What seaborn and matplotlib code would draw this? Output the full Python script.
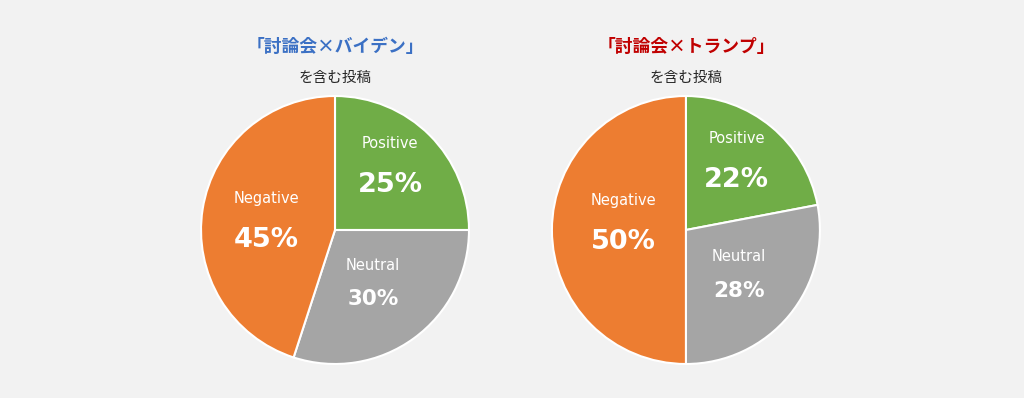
import numpy as np
import matplotlib
matplotlib.use("Agg")
import matplotlib.pyplot as plt
import seaborn as sns

categories = ["Positive", "Neutral", "Negative"]
biden_values = [25, 30, 45]
trump_values = [22, 28, 50]

titles = ["「討論会×バイデン」", "「討論会×トランプ」"]
title_colors = ["#3b70c4", "#c00000"]
subtitle = "を含む投稿"

colors = ["#70ad47", "#a5a5a5", "#ed7d31"]

sns.set_theme(style="white")
plt.rcParams["font.family"] = ["DejaVu Sans"]
jp_font = ["Noto Sans CJK JP", "DejaVu Sans"]

fig = plt.figure(figsize=(10.24, 3.98), dpi=100, facecolor="#f2f2f2")

# label radius (fraction of pie radius) and angle nudge (deg) per category
label_dist = [
    {"Positive": 0.64, "Neutral": 0.48, "Negative": 0.52},
    {"Positive": 0.65, "Neutral": 0.51, "Negative": 0.47},
]
label_nudge = [
    {"Positive": 5, "Neutral": 0, "Negative": 0},
    {"Positive": 4, "Neutral": 0, "Negative": -8},
]
pct_size = {"Positive": 19.5, "Neutral": 15.5, "Negative": 19.5}
gap = {"Positive": 0.155, "Neutral": 0.127, "Negative": 0.155}

positions = [[0.1963, 0.0854, 0.2617, 0.6734], [0.5390, 0.0854, 0.2617, 0.6734]]

for i, values in enumerate([biden_values, trump_values]):
    ax = fig.add_axes(positions[i])
    ax.set_facecolor("#f2f2f2")
    wedges, _ = ax.pie(values, colors=colors, startangle=90, counterclock=False,
                       radius=1.0, wedgeprops=dict(edgecolor="white", linewidth=1.5))
    ax.set_xlim(-1.0, 1.0)
    ax.set_ylim(-1.0, 1.0)
    ax.set_aspect("equal")
    ax.axis("off")

    for w, cat, v in zip(wedges, categories, values):
        mid = np.deg2rad((w.theta1 + w.theta2) / 2 + label_nudge[i][cat])
        r = label_dist[i][cat]
        x, y = r * np.cos(mid), r * np.sin(mid)
        ax.text(x, y + gap[cat], cat, ha="center", va="center", color="white", fontsize=10.5)
        ax.text(x, y - gap[cat], f"{v}%", ha="center", va="center", color="white",
                fontsize=pct_size[cat], fontweight="bold")

    cx = positions[i][0] + positions[i][2] / 2
    fig.text(cx, 1 - 47 / 398, titles[i], ha="center", va="center", color=title_colors[i],
             fontsize=12.8, fontweight="bold", family=jp_font)
    fig.text(cx, 1 - 78 / 398, subtitle, ha="center", va="center", color="#262626",
             fontsize=10.5, family=jp_font)

fig.savefig("out.png", dpi=100, facecolor=fig.get_facecolor())
